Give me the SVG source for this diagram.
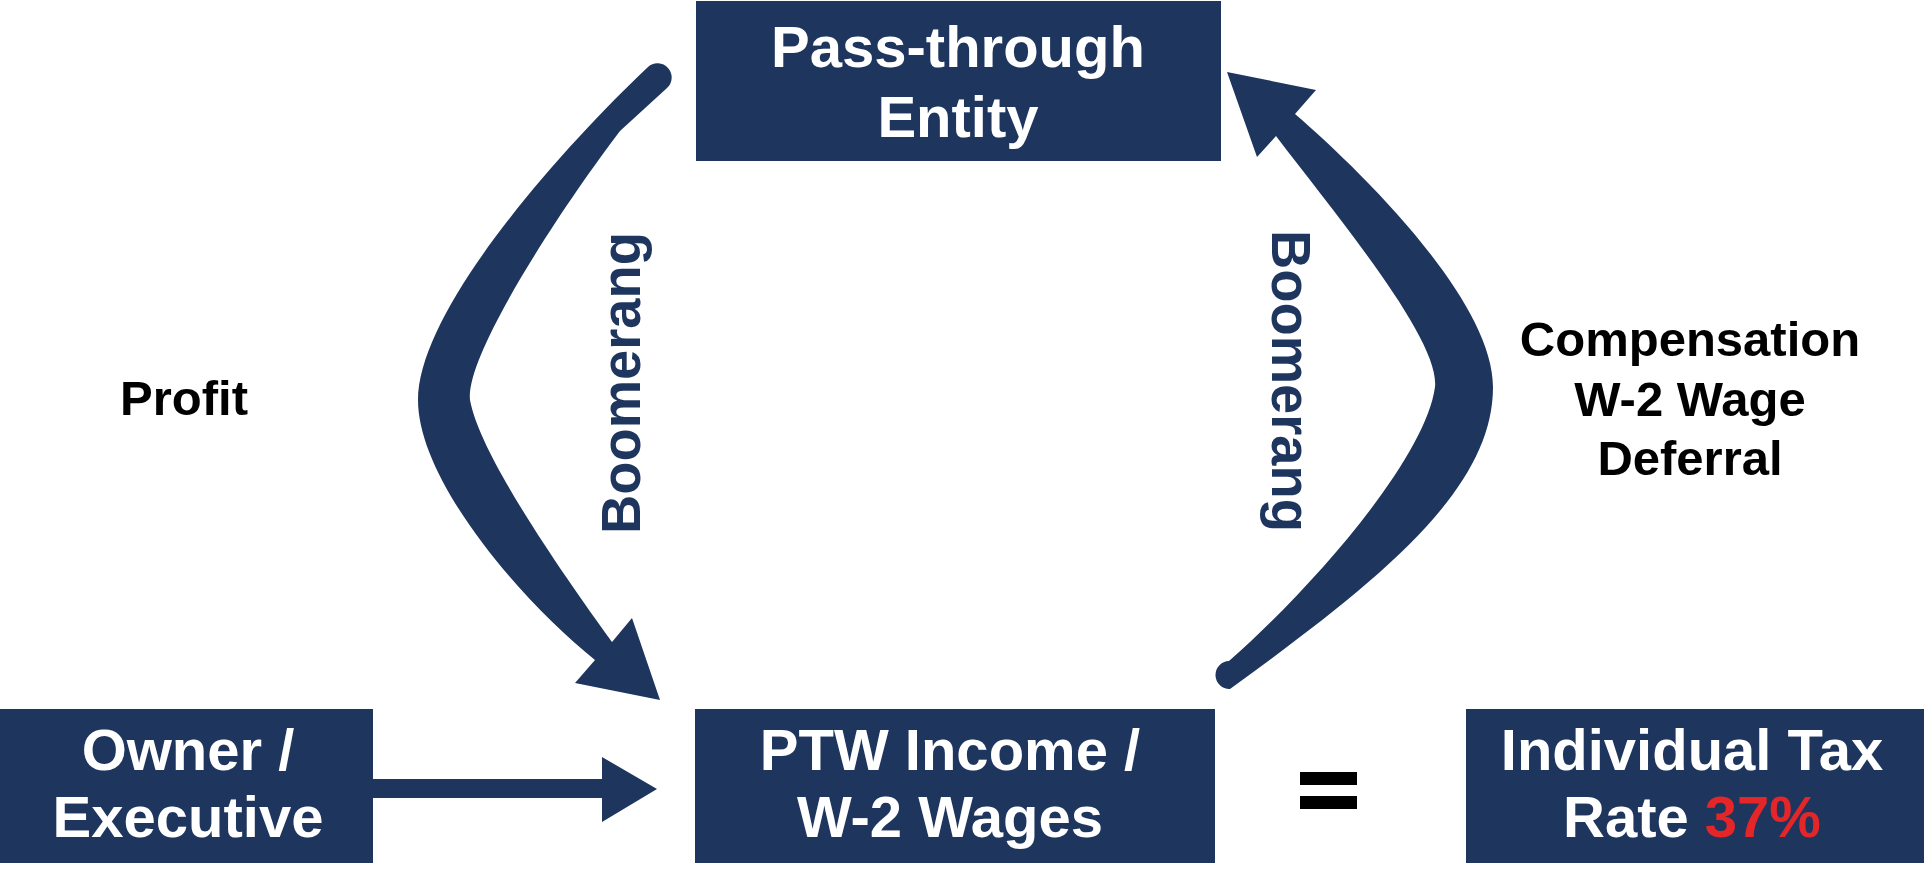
<svg xmlns="http://www.w3.org/2000/svg" width="1924" height="874" viewBox="0 0 1924 874">
  <style>
    .box { fill: #1E355E; }
    .bt { font-family: "Liberation Sans", Arial, sans-serif; font-weight: bold; font-size: 58px; fill: #FFFFFF; text-anchor: middle; }
    .lbl { font-family: "Liberation Sans", Arial, sans-serif; font-weight: bold; font-size: 49px; fill: #000000; text-anchor: middle; }
    .boom { font-family: "Liberation Sans", Arial, sans-serif; font-weight: bold; font-size: 55px; fill: #1E355E; text-anchor: middle; }
    .conn { fill: #1E355E; }
    .red { fill: #E52629; }
  </style>
  <rect width="1924" height="874" fill="#FFFFFF"/>

  <g id="connectors">
    <path id="boomerang-left" class="conn" d="M 648,67 C 560,150 418,310 418,400 C 418,480 520,600 595,660 L 575,683 L 660,700 L 632,618 L 612,642 C 560,570 480,455 470,400 C 465,355 560,210 620,131 L 667,88 A 14 14 0 0 0 648,67 Z"/>
    <path id="boomerang-right" class="conn" d="M 1227,72 L 1316,90 L 1295,114 C 1360,170 1493,300 1493,387 C 1493,490 1380,580 1230,689 A 14 14 0 0 1 1229,661 C 1310,590 1425,460 1435,387 C 1440,340 1340,220 1276,136 L 1257,157 Z"/>
    <path id="owner-arrow" class="conn" d="M 373,779 L 602,779 L 602,757 L 657,789 L 602,822 L 602,798 L 373,798 Z"/>
    <text class="boom" transform="translate(640,383) rotate(-90)" textLength="302" lengthAdjust="spacingAndGlyphs">Boomerang</text>
    <text class="boom" transform="translate(1272,381) rotate(90)" textLength="302" lengthAdjust="spacingAndGlyphs">Boomerang</text>
  </g>

  <g id="pass-through">
    <rect class="box" x="696" y="1" width="525" height="160"/>
    <text class="bt" x="958" y="67">Pass-through</text>
    <text class="bt" x="958" y="137">Entity</text>
  </g>

  <g id="owner">
    <rect class="box" x="0" y="709" width="373" height="154"/>
    <text class="bt" x="188" y="770">Owner /</text>
    <text class="bt" x="188" y="837">Executive</text>
  </g>

  <g id="ptw">
    <rect class="box" x="695" y="709" width="520" height="154"/>
    <text class="bt" x="950" y="770">PTW Income /</text>
    <text class="bt" x="950" y="837">W-2 Wages</text>
  </g>

  <g id="equals">
    <rect x="1300" y="772" width="57" height="13" fill="#000000"/>
    <rect x="1300" y="796" width="57" height="13" fill="#000000"/>
  </g>

  <g id="individual">
    <rect class="box" x="1466" y="709" width="458" height="154"/>
    <text class="bt" x="1692" y="770">Individual Tax</text>
    <text class="bt" x="1692" y="837">Rate <tspan class="red">37%</tspan></text>
  </g>

  <g id="profit">
    <text class="lbl" x="184" y="415">Profit</text>
  </g>

  <g id="compensation">
    <text class="lbl" x="1690" y="356">Compensation</text>
    <text class="lbl" x="1690" y="416">W-2 Wage</text>
    <text class="lbl" x="1690" y="475">Deferral</text>
  </g>
</svg>
